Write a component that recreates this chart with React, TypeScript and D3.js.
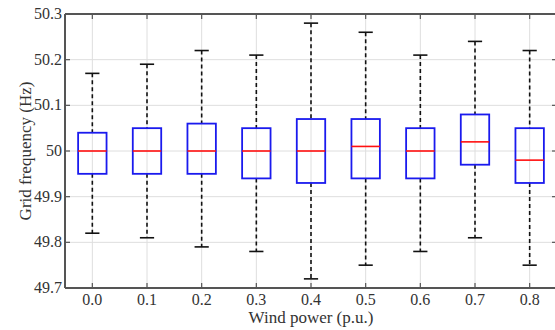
import React, { useEffect, useRef } from "react";
import * as d3 from "d3";

// categories (wind power, p.u.)
const categories = ["0.0", "0.1", "0.2", "0.3", "0.4", "0.5", "0.6", "0.7", "0.8"];
// box statistics per category (Hz)
const whiskerHigh = [50.17, 50.19, 50.22, 50.21, 50.28, 50.26, 50.21, 50.24, 50.22];
const q3 = [50.04, 50.05, 50.06, 50.05, 50.07, 50.07, 50.05, 50.08, 50.05];
const medians = [50.0, 50.0, 50.0, 50.0, 50.0, 50.01, 50.0, 50.02, 49.98];
const q1 = [49.95, 49.95, 49.95, 49.94, 49.93, 49.94, 49.94, 49.97, 49.93];
const whiskerLow = [49.82, 49.81, 49.79, 49.78, 49.72, 49.75, 49.78, 49.81, 49.75];
const yTicks = [49.7, 49.8, 49.9, 50, 50.1, 50.2, 50.3];
const yTickLabels = ["49.7", "49.8", "49.9", "50", "50.1", "50.2", "50.3"];

export default function App() {
  const svgRef = useRef<SVGSVGElement>(null);
  const width = 555;
  const height = 330;

  useEffect(() => {
    const svg = d3.select(svgRef.current);
    svg.selectAll("*").remove();

    const margin = { top: 14, right: -2, bottom: 42, left: 65 };
    const font = "Liberation Serif, Times New Roman, Times, serif";

    const x = d3
      .scaleBand()
      .domain(categories)
      .range([margin.left, width - margin.right])
      .padding(0);

    const y = d3
      .scaleLinear()
      .domain([49.7, 50.3])
      .range([height - margin.bottom, margin.top]);

    const cx = (c: string) => (x(c) as number) + x.bandwidth() / 2;
    const boxHalf = x.bandwidth() * 0.26;
    const capHalf = x.bandwidth() * 0.13;

    // grid lines
    const grid = svg.append("g");
    grid
      .selectAll("line.gy")
      .data(yTicks)
      .join("line")
      .attr("x1", margin.left)
      .attr("x2", width - margin.right)
      .attr("y1", (d) => y(d))
      .attr("y2", (d) => y(d))
      .attr("stroke", "#dedede")
      .attr("stroke-width", 1);
    grid
      .selectAll("line.gx")
      .data(categories)
      .join("line")
      .attr("x1", cx)
      .attr("x2", cx)
      .attr("y1", y(49.7))
      .attr("y2", y(50.3))
      .attr("stroke", "#dedede")
      .attr("stroke-width", 1);

    // boxes
    const data = categories.map((c, i) => ({
      c,
      hi: whiskerHigh[i],
      q3: q3[i],
      med: medians[i],
      q1: q1[i],
      lo: whiskerLow[i],
    }));

    const g = svg.selectAll("g.box").data(data).join("g").attr("class", "box");

    // dashed whiskers
    g.append("line")
      .attr("x1", (d) => cx(d.c))
      .attr("x2", (d) => cx(d.c))
      .attr("y1", (d) => y(d.hi))
      .attr("y2", (d) => y(d.q3))
      .attr("stroke", "#111")
      .attr("stroke-width", 1.6)
      .attr("stroke-dasharray", "4,3");
    g.append("line")
      .attr("x1", (d) => cx(d.c))
      .attr("x2", (d) => cx(d.c))
      .attr("y1", (d) => y(d.q1))
      .attr("y2", (d) => y(d.lo))
      .attr("stroke", "#111")
      .attr("stroke-width", 1.6)
      .attr("stroke-dasharray", "4,3");

    // caps
    ["hi", "lo"].forEach((k) => {
      g.append("line")
        .attr("x1", (d) => cx(d.c) - capHalf)
        .attr("x2", (d) => cx(d.c) + capHalf)
        .attr("y1", (d: any) => y(d[k]))
        .attr("y2", (d: any) => y(d[k]))
        .attr("stroke", "#111")
        .attr("stroke-width", 1.6);
    });

    g.append("rect")
      .attr("x", (d) => cx(d.c) - boxHalf)
      .attr("width", boxHalf * 2)
      .attr("y", (d) => y(d.q3))
      .attr("height", (d) => y(d.q1) - y(d.q3))
      .attr("fill", "none")
      .attr("stroke", "#1a1aee")
      .attr("stroke-width", 1.8);

    g.append("line")
      .attr("x1", (d) => cx(d.c) - boxHalf)
      .attr("x2", (d) => cx(d.c) + boxHalf)
      .attr("y1", (d) => y(d.med))
      .attr("y2", (d) => y(d.med))
      .attr("stroke", "#ff1010")
      .attr("stroke-width", 1.6);

    // frame
    const axisColor = "#555";
    [50.3, 49.7].forEach((v) => {
      svg
        .append("line")
        .attr("x1", margin.left)
        .attr("x2", width)
        .attr("y1", y(v))
        .attr("y2", y(v))
        .attr("stroke", axisColor)
        .attr("stroke-width", 2);
    });
    svg
      .append("line")
      .attr("x1", margin.left)
      .attr("x2", margin.left)
      .attr("y1", y(50.3))
      .attr("y2", y(49.7))
      .attr("stroke", axisColor)
      .attr("stroke-width", 2);

    // inward tick marks
    const ticks = svg.append("g").attr("stroke", axisColor).attr("stroke-width", 1.2);
    yTicks.forEach((t) => {
      ticks.append("line").attr("x1", margin.left).attr("x2", margin.left + 5).attr("y1", y(t)).attr("y2", y(t));
      ticks.append("line").attr("x1", width - margin.right - 5).attr("x2", width - margin.right).attr("y1", y(t)).attr("y2", y(t));
    });
    categories.forEach((c) => {
      ticks.append("line").attr("x1", cx(c)).attr("x2", cx(c)).attr("y1", y(49.7)).attr("y2", y(49.7) - 5);
      ticks.append("line").attr("x1", cx(c)).attr("x2", cx(c)).attr("y1", y(50.3)).attr("y2", y(50.3) + 5);
    });

    // tick labels
    svg
      .append("g")
      .selectAll("text")
      .data(yTicks)
      .join("text")
      .attr("x", margin.left - 3)
      .attr("y", (d) => y(d) + 5)
      .attr("text-anchor", "end")
      .style("font-family", font)
      .style("font-size", "16px")
      .attr("fill", "#333")
      .text((d, i) => yTickLabels[i]);

    svg
      .append("g")
      .selectAll("text")
      .data(categories)
      .join("text")
      .attr("x", cx)
      .attr("y", y(49.7) + 17)
      .attr("text-anchor", "middle")
      .style("font-family", font)
      .style("font-size", "16px")
      .attr("fill", "#333")
      .text((d) => d);

    // axis titles
    svg
      .append("text")
      .attr("x", (margin.left + width - margin.right) / 2)
      .attr("y", 323)
      .attr("text-anchor", "middle")
      .style("font-family", font)
      .style("font-size", "17px")
      .attr("fill", "#333")
      .text("Wind power (p.u.)");

    svg
      .append("text")
      .attr("transform", `translate(31,${(y(49.7) + y(50.3)) / 2})rotate(-90)`)
      .attr("text-anchor", "middle")
      .style("font-family", font)
      .style("font-size", "17px")
      .attr("fill", "#333")
      .text("Grid frequency (Hz)");
  }, []);

  return (
    <svg
      ref={svgRef}
      width={width}
      height={height}
      style={{ position: "absolute", left: 0, top: 0, background: "#fff" }}
    ></svg>
  );
}
